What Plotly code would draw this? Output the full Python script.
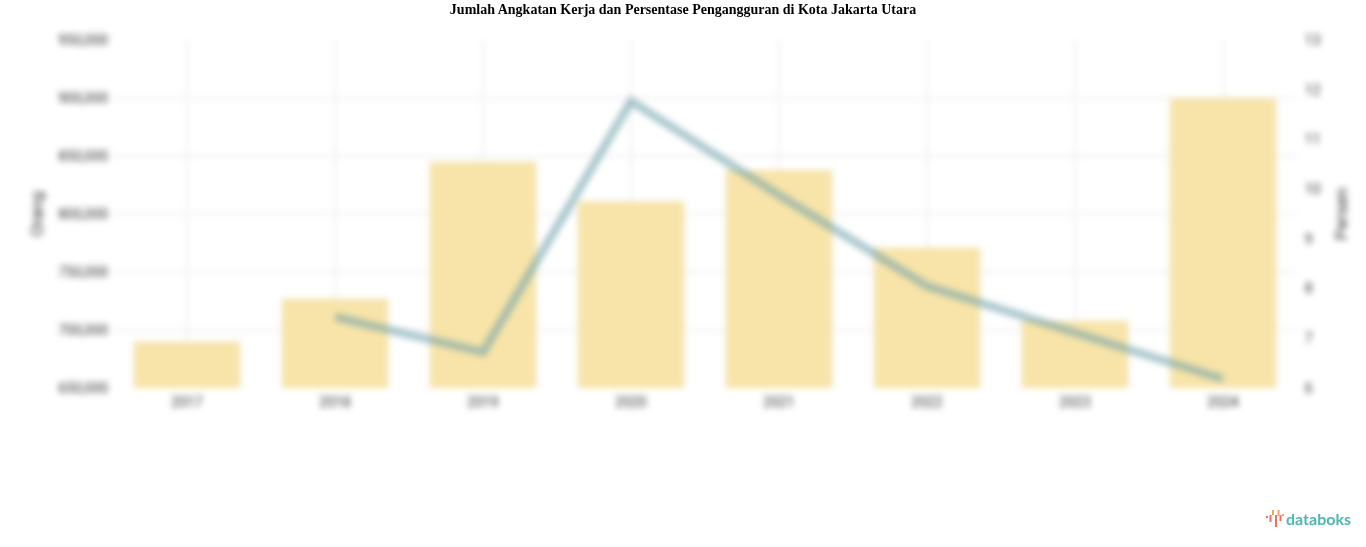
import plotly.graph_objects as go

tahun = ['2017', '2018', '2019', '2020', '2021', '2022', '2023', '2024']
angkatan_kerja = [690000, 727000, 845000, 811000, 838000, 771000, 708000, 900000]
pengangguran = [None, 7.43, 6.72, 11.77, 9.88, 8.05, 7.1, 6.18]

ticks_kiri = [650000, 700000, 750000, 800000, 850000, 900000, 950000]
ticks_kanan = [6, 7, 8, 9, 10, 11, 12, 13]

cor_grid = '#efefef'
cor_texto = '#333333'

fig = go.Figure()

fig.add_trace(go.Bar(x=tahun, y=angkatan_kerja, name='Angkatan Kerja',
                     marker=dict(color='#f8e4a8'), width=0.72))

fig.add_trace(go.Scatter(x=tahun, y=pengangguran, name='Pengangguran', yaxis='y2',
                         mode='lines', line=dict(color='rgba(110,160,170,0.6)', width=8)))

fig.update_layout(
    width=1366,
    height=547,
    margin=dict(l=113, r=69, t=40, b=159),
    plot_bgcolor='white',
    paper_bgcolor='white',
    showlegend=False,
    title=dict(text='<b>Jumlah Angkatan Kerja dan Persentase Pengangguran di Kota Jakarta Utara</b>',
               x=0.5, xanchor='center', y=0.9835, yanchor='middle',
               font=dict(family='Liberation Serif', size=14, color='black')),
    font=dict(family='Roboto', size=14, color=cor_texto),

    xaxis=dict(gridcolor=cor_grid, gridwidth=2, showgrid=True, zeroline=False,
               ticks='outside', ticklen=1, tickcolor='rgba(0,0,0,0)'),

    yaxis=dict(range=[650000, 950000], tickvals=ticks_kiri, tickformat=',',
               gridcolor=cor_grid, gridwidth=2, zeroline=False,
               ticks='outside', ticklen=1, tickcolor='rgba(0,0,0,0)',
               title=dict(text='Orang', standoff=10)),

    yaxis2=dict(range=[6, 13], tickvals=ticks_kanan, overlaying='y', side='right',
                showgrid=False, zeroline=False,
                ticks='outside', ticklen=4, tickcolor='rgba(0,0,0,0)',
                title=dict(text='Persen', standoff=15)),
)

# logo databoks
fig.add_annotation(text='<b>databoks</b>', xref='paper', yref='paper', x=1.0475, y=-0.374,
                   xanchor='right', yanchor='middle', showarrow=False,
                   font=dict(family='Lato', size=16, color='#4fb5b0'))

# icone do logo: (x, topo, base, cor) em pixels da pagina
laranja = '#f2a65a'
vermelho = '#ee6f62'
for px, topo, base, cor in [(1267, 516, 518, vermelho), (1270.5, 515, 522, vermelho),
                            (1273, 510, 515, laranja), (1276, 515, 527, vermelho),
                            (1278.5, 510, 516, laranja), (1280.5, 515, 521, vermelho),
                            (1283, 514, 516, laranja)]:
    fig.add_shape(type='rect', xref='paper', yref='paper',
                  x0=(px - 1 - 113) / 1184, x1=(px + 1 - 113) / 1184,
                  y0=(388 - base) / 348, y1=(388 - topo) / 348,
                  fillcolor=cor, line_width=0)

# desfoque igual ao da imagem original, so na area do grafico
blur = """
document.body.style.margin = '0';
document.querySelectorAll('.cartesianlayer, .infolayer .ytitle, .infolayer .y2title').forEach(function (el) {
    el.style.filter = 'blur(3px)';
});
"""

fig.write_html("out.html", post_script=blur, config=dict(displayModeBar=False))
